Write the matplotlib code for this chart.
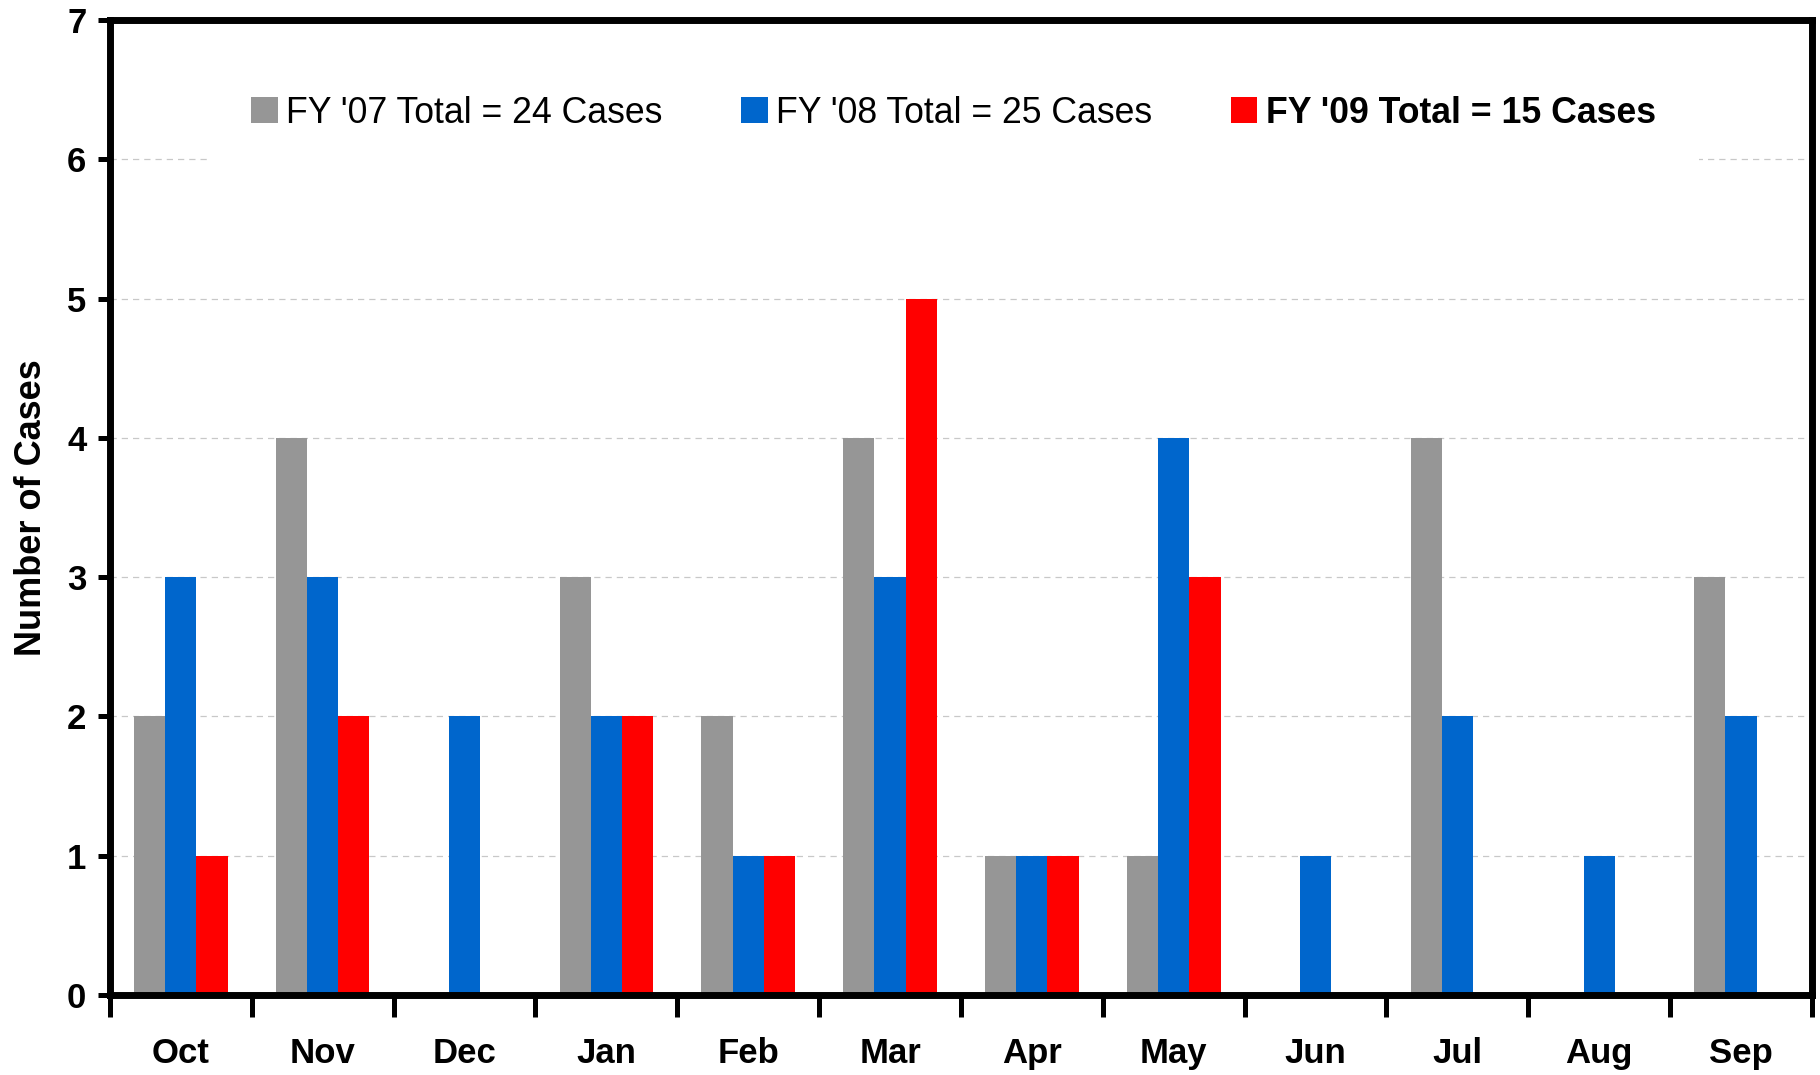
import numpy as np
import matplotlib
matplotlib.use('Agg')
import matplotlib.pyplot as plt

plt.rcParams['font.family'] = ['Liberation Sans', 'DejaVu Sans']

# monthly case counts, fiscal year starts in Oct
months = ['Oct', 'Nov', 'Dec', 'Jan', 'Feb', 'Mar', 'Apr', 'May', 'Jun', 'Jul', 'Aug', 'Sep']
fy07 = [2, 4, 0, 3, 2, 4, 1, 1, 0, 4, 0, 3]
fy08 = [3, 3, 2, 2, 1, 3, 1, 4, 1, 2, 1, 2]
fy09 = [1, 2, 0, 2, 1, 5, 1, 3, 0, 0, 0, 0]
labels = ["FY '07 Total = 24 Cases", "FY '08 Total = 25 Cases", "FY '09 Total = 15 Cases"]
colors = ['#969696', '#0066CC', '#FF0000']

fig = plt.figure(figsize=(18.2, 10.75), dpi=100)
ax = fig.add_axes([0.0604, 0.0744, 0.9352, 0.907])

x = np.arange(len(months)) + 0.5
w = 0.22
ax.bar(x - w, fy07, w, color=colors[0], label=labels[0], zorder=3)
ax.bar(x, fy08, w, color=colors[1], label=labels[1], zorder=3)
ax.bar(x + w, fy09, w, color=colors[2], label=labels[2], zorder=3)

ax.set_xlim(0, 12)
ax.set_ylim(0, 7)

# ticks at group boundaries, month names centered
ax.set_xticks(np.arange(0, 13))
ax.set_xticklabels([])
ax.set_xticks(x, minor=True)
ax.set_xticklabels(months, minor=True, fontsize=25, fontweight='bold')
ax.tick_params(axis='x', which='major', direction='out', length=16, width=3.6)
ax.tick_params(axis='x', which='minor', length=0, pad=30.5)

ax.set_yticks(range(0, 8))
ax.set_yticklabels([str(v) for v in range(0, 8)], fontsize=25, fontweight='bold')
ax.tick_params(axis='y', direction='out', length=9, width=3.6, pad=8)

for sp in ax.spines.values():
    sp.set_linewidth(5)
    sp.set_zorder(5)

ax.yaxis.grid(True, color='#c8c8c8', linestyle=(0, (5, 4)), linewidth=0.9, zorder=0)
ax.set_axisbelow(True)

ax.set_ylabel('Number of Cases', fontsize=26, fontweight='bold')
ax.yaxis.set_label_coords(-0.036, 0.5)

leg = ax.legend(ncol=3, loc='center', bbox_to_anchor=(0.4956, 0.9046), fontsize=25.7,
                frameon=True, facecolor='white', edgecolor='none', fancybox=False, framealpha=1,
                handlelength=0.75, handleheight=0.75, handletextpad=0.23,
                columnspacing=2.2, borderpad=1.2)
leg.set_zorder(4)
leg.get_texts()[2].set_fontweight('bold')

fig.savefig('out.png', dpi=100)
